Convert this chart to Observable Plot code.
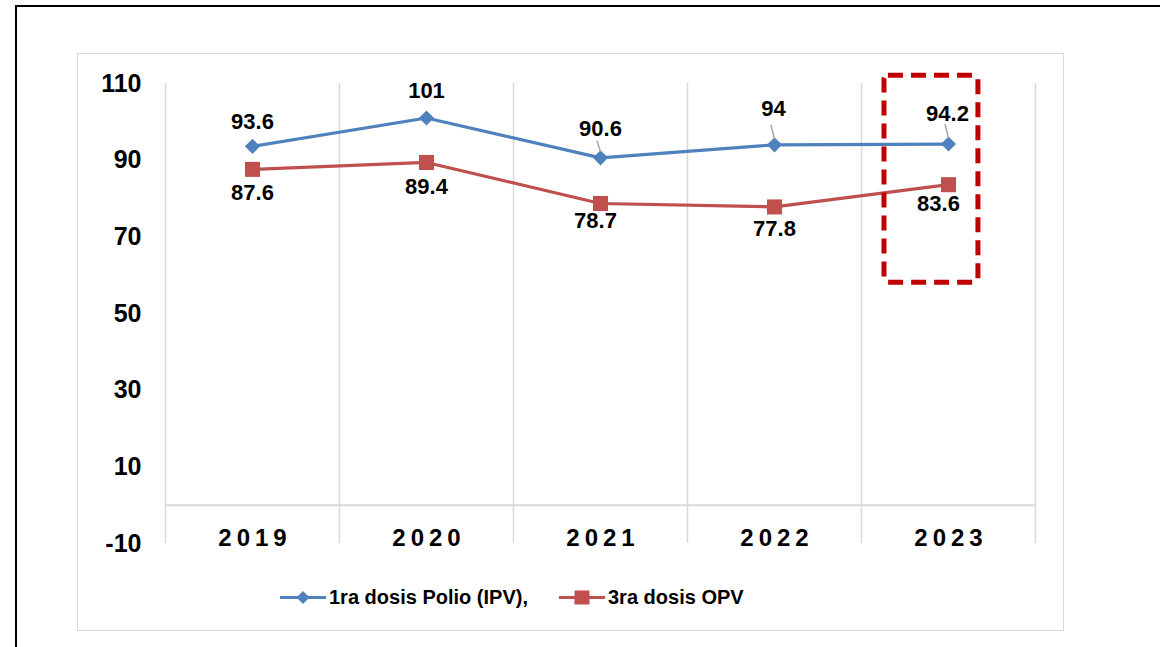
<!DOCTYPE html>
<html>
<head>
<meta charset="utf-8">
<script src="https://cdn.jsdelivr.net/npm/d3@7"></script>
<script src="https://cdn.jsdelivr.net/npm/@observablehq/plot@0.6"></script>
<style>
  html, body { margin: 0; padding: 0; background: #fff; }
  body { width: 1160px; height: 647px; overflow: hidden; position: relative;
         font-family: "Liberation Sans", Arial, sans-serif; }
  #outer { position: absolute; left: 15px; top: 5px; width: 1200px; height: 700px;
           border: 2.5px solid #000; box-sizing: border-box; }
  #inner { position: absolute; left: 77px; top: 53px; width: 987px; height: 578px;
           border: 1.5px solid #d9d9d9; box-sizing: border-box; }
  #chart { position: absolute; left: 0; top: 0; }
  .legend { position: absolute; top: 584px; height: 26px; display: flex; align-items: center;
            font-weight: bold; font-size: 20px; color: #000; white-space: nowrap; }
  .legend svg { margin-right: 3px; }
</style>
</head>
<body>
<div id="outer"></div>
<div id="inner"></div>
<div id="chart"></div>
<div class="legend" style="left:280px" id="leg1"></div>
<div class="legend" style="left:559px" id="leg2"></div>
<script>
// ---- data ----
const years = [2019, 2020, 2021, 2022, 2023];
const ipv = [93.6, 101, 90.6, 94, 94.2];
const opv = [87.6, 89.4, 78.7, 77.8, 83.6];
const yTicks = [-10, 10, 30, 50, 70, 90, 110];
const seriesNames = ["1ra dosis Polio (IPV),", "3ra dosis OPV"];
const highlightYear = 2023;

const blue = "#4f81bd", red = "#c0504d", grid = "#d9d9d9";
const font = "'Liberation Sans', Arial, sans-serif";

const ipvRows = years.map((y, i) => ({year: y, value: ipv[i]}));
const opvRows = years.map((y, i) => ({year: y, value: opv[i]}));
const bounds = years.map(y => y - 0.5).concat([years[years.length - 1] + 0.5]);

const leaderYears = [2021, 2022, 2023];
const labelText = {fontSize: 22, fontWeight: "bold", fill: "#000"};

const chart = Plot.plot({
  width: 1160,
  height: 647,
  marginLeft: 165,
  marginRight: 125,
  marginTop: 83,
  marginBottom: 104,
  style: {fontFamily: font, background: "transparent", overflow: "visible"},
  x: {domain: [bounds[0], bounds[bounds.length - 1]], axis: null},
  y: {domain: [-10, 110], axis: null},
  marks: [
    Plot.ruleX(bounds, {x: d => d, y1: -10, y2: 110, stroke: grid, strokeWidth: 1.5}),
    Plot.ruleY([0], {y: d => d, stroke: grid, strokeWidth: 2}),
    Plot.text(yTicks, {y: d => d, frameAnchor: "left", textAnchor: "end", dx: -24,
      text: d => String(d), fontSize: 25, fontWeight: "bold", fill: "#000"}),
    Plot.text(years, {x: d => d, y: -10, dy: -5, dx: 2.5, text: d => String(d),
      fontSize: 24, fontWeight: "bold", fill: "#000", stroke: "none", strokeWidth: 0.01}),
    Plot.line(ipvRows, {x: "year", y: "value", stroke: blue, strokeWidth: 3.2}),
    Plot.line(opvRows, {x: "year", y: "value", stroke: red, strokeWidth: 3.2}),
    Plot.dot(ipvRows, {x: "year", y: "value", symbol: "diamond2", r: 6.8, fill: blue, stroke: "none"}),
    Plot.dot(opvRows, {x: "year", y: "value", symbol: "square", r: 8.5, fill: red, stroke: "none"}),
    // leader lines
    Plot.link(ipvRows.filter(d => leaderYears.includes(d.year)), {
      x1: d => d.year - 0.02, x2: d => d.year, y1: d => d.value + (d.year === 2021 ? 4.5 : 5.2),
      y2: d => d.value + 1.5, stroke: "#a6a6a6", strokeWidth: 1.5}),
    // data labels (IPV)
    Plot.text(ipvRows.filter(d => d.year === 2019), {x: "year", y: "value", text: d => String(d.value), dy: -24, ...labelText}),
    Plot.text(ipvRows.filter(d => d.year === 2020), {x: "year", y: "value", text: d => String(d.value), dy: -27, ...labelText}),
    Plot.text(ipvRows.filter(d => d.year === 2021), {x: "year", y: "value", text: d => String(d.value), dy: -29, ...labelText}),
    Plot.text(ipvRows.filter(d => d.year === 2022), {x: "year", y: "value", text: d => String(d.value), dy: -36, dx: -1, ...labelText}),
    Plot.text(ipvRows.filter(d => d.year === 2023), {x: "year", y: "value", text: d => String(d.value), dy: -30, dx: -1, ...labelText}),
    // data labels (OPV)
    Plot.text(opvRows.filter(d => d.year <= 2020), {x: "year", y: "value", text: d => String(d.value), dy: 24, ...labelText}),
    Plot.text(opvRows.filter(d => d.year === 2021), {x: "year", y: "value", text: d => String(d.value), dy: 17, dx: -5, ...labelText}),
    Plot.text(opvRows.filter(d => d.year === 2022), {x: "year", y: "value", text: d => String(d.value), dy: 22, ...labelText}),
    Plot.text(opvRows.filter(d => d.year === 2023), {x: "year", y: "value", text: d => String(d.value), dy: 19, dx: -10, ...labelText}),
    // highlight box
    Plot.rect([0], {x1: highlightYear - 0.368, x2: highlightYear + 0.172, y1: 58, y2: 112,
      fill: "none", stroke: "#c00000", strokeWidth: 5, strokeDasharray: "15,8", rx: 4})
  ]
});
// letter-spaced year labels
d3.select(chart).selectAll("text")
  .filter(function () { return years.map(String).includes(this.textContent.trim()); })
  .style("letter-spacing", "5px");
document.getElementById("chart").appendChild(chart);

// ---- legend ----
function swatch(color, shape) {
  const s = shape === "diamond"
    ? `<path d="M23,6 L29.5,12.5 L23,19 L16.5,12.5Z" fill="${color}"/>`
    : `<rect x="15.5" y="5.5" width="15" height="14" fill="${color}"/>`;
  return `<svg width="46" height="25"><line x1="0" x2="46" y1="12.5" y2="12.5" stroke="${color}" stroke-width="3"/>${s}</svg>`;
}
document.getElementById("leg1").innerHTML = swatch(blue, "diamond") + `<span>${seriesNames[0]}</span>`;
document.getElementById("leg2").innerHTML = swatch(red, "square") + `<span>${seriesNames[1]}</span>`;
</script>
</body>
</html>
